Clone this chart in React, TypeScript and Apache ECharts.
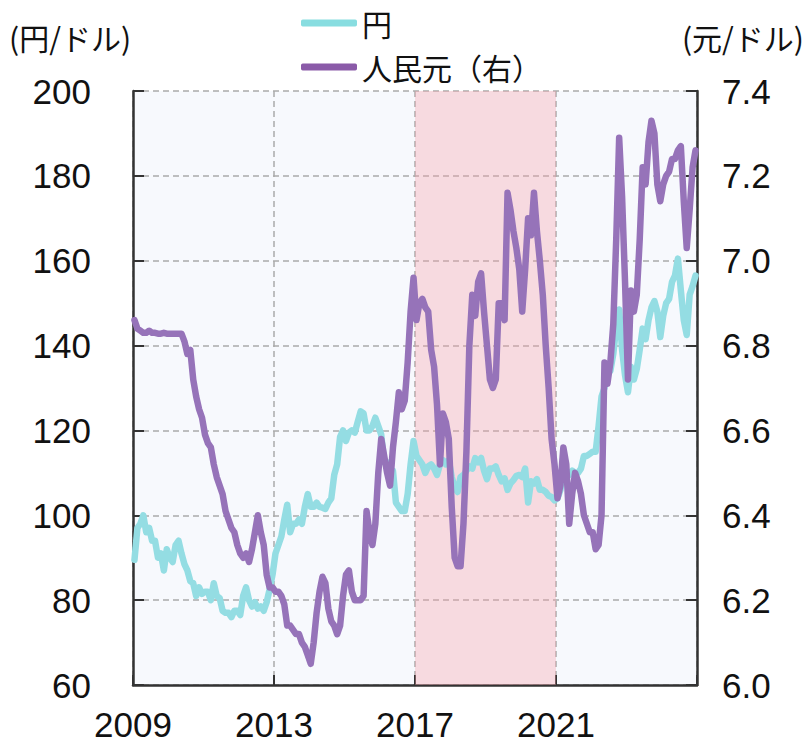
import React, { useEffect, useRef } from "react";
import * as echarts from "echarts";

const startYear = 2009;
const xTickLabels = ["2009", "2013", "2017", "2021"];
const shadeRange = [2017, 2021];
const seriesNames = ["円", "人民元（右）"];
const axisNames = ["(円/ドル)", "(元/ドル)"];

// USD/JPY, monthly, Jan 2009 - Dec 2024
const yenValues = [
  89.5, 97, 98, 100, 96, 97, 94, 94, 90, 91, 87, 92,
  90, 89, 93, 94, 91, 88.5, 87, 84.5, 84, 81, 83, 81.5,
  82, 82, 80, 84, 81, 80.5, 77.5, 77, 77, 76, 77.5, 77.5,
  76.5, 81, 83, 80, 78.5, 79.5, 78, 78.5, 77.5, 79.5, 82.5, 86,
  91, 93, 95, 99, 102.5, 96, 98, 98, 99, 98, 102, 105,
  102, 102, 103, 102, 101.8, 101.5, 103, 104, 109.5, 112, 118.5, 120,
  117.5, 119.5, 120, 119.5, 122, 124.5, 124, 120, 120, 121, 123, 121,
  119, 112.5, 112.5, 108, 110.5, 103, 102, 101, 101, 105, 112, 117.5,
  114, 113, 112, 110, 111.5, 112, 111, 109.5, 112, 113, 112, 113,
  109, 106.5, 105.5, 109, 109.5, 110.5, 111.5, 111, 113.5, 112.5, 113.5, 110.5,
  108.5, 111, 111, 111.5, 109.5, 108, 108.7, 106, 107.5, 108.3, 109.3, 109.5,
  109, 111, 103, 108, 107.5, 108.5, 106, 106, 105.5, 104.6, 104.3, 103.5,
  104, 106, 110, 109, 109.5, 110.5, 110, 110, 111, 114, 114, 114.5,
  115, 115, 121, 128, 130, 135.5, 134, 138, 144.5, 148.5, 139, 133,
  129, 135, 132, 134.5, 139, 144, 141.5, 146, 149, 150.5, 148, 142,
  147, 150, 151, 155, 156.5, 160.5, 153, 146, 142.5, 152, 154, 156.5,
];

// USD/CNY, monthly, Jan 2009 - Dec 2024
const yuanValues = [
  6.86, 6.84, 6.835, 6.83, 6.83, 6.835, 6.83, 6.83, 6.828, 6.828, 6.83, 6.828,
  6.828, 6.828, 6.828, 6.828, 6.828, 6.81, 6.78, 6.79, 6.72, 6.68, 6.65, 6.63,
  6.59, 6.57, 6.56, 6.52, 6.49, 6.47, 6.45, 6.41, 6.39, 6.37, 6.36, 6.33,
  6.31, 6.30, 6.31, 6.29, 6.32, 6.36, 6.40, 6.36, 6.33, 6.26, 6.23, 6.23,
  6.22, 6.22, 6.21, 6.19, 6.14, 6.14, 6.13, 6.12, 6.12, 6.10, 6.09, 6.07,
  6.05, 6.10, 6.17, 6.22, 6.255, 6.24, 6.18, 6.15, 6.14, 6.12, 6.14, 6.21,
  6.26, 6.27, 6.22, 6.20, 6.20, 6.20, 6.21, 6.41, 6.36, 6.33, 6.38, 6.50,
  6.58, 6.54, 6.50, 6.47, 6.56, 6.62, 6.69, 6.65, 6.67, 6.76, 6.88, 6.96,
  6.86, 6.90, 6.91, 6.89, 6.88, 6.79, 6.75, 6.66, 6.52, 6.64, 6.62, 6.58,
  6.42, 6.30, 6.28, 6.28, 6.38, 6.55, 6.80, 6.92, 6.87, 6.95, 6.97, 6.88,
  6.80, 6.72, 6.70, 6.72, 6.90, 6.90, 6.86, 7.16, 7.12, 7.07, 7.03, 6.98,
  6.88, 6.98, 7.10, 7.06, 7.16, 7.07, 7.00, 6.92, 6.80, 6.70, 6.58, 6.52,
  6.44, 6.47, 6.56, 6.52, 6.38, 6.45, 6.50, 6.48, 6.45, 6.40, 6.38, 6.36,
  6.36, 6.32, 6.33, 6.40, 6.76, 6.71, 6.76, 6.85, 7.05, 7.29, 7.15, 6.95,
  6.72, 6.93, 6.88, 6.92, 7.05, 7.22, 7.18, 7.28, 7.33, 7.30, 7.18, 7.14,
  7.18, 7.20, 7.21, 7.24, 7.24, 7.26, 7.27, 7.14, 7.03, 7.12, 7.22, 7.26,
];

const toPairs = (vals: number[]) =>
  vals.map((v, i) => [startYear + i / 12 + 1 / 24, v]);

const CYAN = "#94dde3";
const CYAN_IN = "#9cc4c9";
const PURPLE = "#9673b9";
const PURPLE_IN = "#9a5699";
const NUM_FONT = "'Liberation Sans', Arial, sans-serif";
const CJK_FONT = "'Noto Sans CJK JP', sans-serif";

export default function App() {
  const ref = useRef<HTMLDivElement>(null);
  useEffect(() => {
    if (!ref.current) return;
    const chart = echarts.init(ref.current, null, { renderer: "svg" });
    const pieces = (out: string, inn: string) => [
      { lt: shadeRange[0], color: out },
      { gte: shadeRange[0], lte: shadeRange[1], color: inn },
      { gt: shadeRange[1], color: out },
    ];
    chart.setOption({
      animation: false,
      backgroundColor: "#ffffff",
      grid: {
        left: 133,
        right: 111,
        top: 91,
        bottom: 63,
        show: true,
        backgroundColor: "#f7f9fd",
        borderWidth: 0,
      },
      legend: {
        orient: "vertical",
        left: 296,
        top: 3,
        itemWidth: 56,
        itemHeight: 7,
        itemGap: 14,
        icon: "roundRect",
        textStyle: {
          fontSize: 30,
          lineHeight: 30,
          fontFamily: CJK_FONT,
          color: "#111",
        },
        data: [
          { name: seriesNames[0], itemStyle: { color: "#88dde0" } },
          { name: seriesNames[1], itemStyle: { color: "#8a5aa8" } },
        ],
      },
      visualMap: [
        { show: false, type: "piecewise", seriesIndex: 0, dimension: 0, pieces: pieces(CYAN, CYAN_IN) },
        { show: false, type: "piecewise", seriesIndex: 1, dimension: 0, pieces: pieces(PURPLE, PURPLE_IN) },
      ],
      graphic: [
        {
          type: "text",
          left: 9,
          top: 22,
          style: { text: axisNames[0], fontSize: 30, fontFamily: CJK_FONT, fill: "#111" },
        },
        {
          type: "text",
          right: 4,
          top: 22,
          style: { text: axisNames[1], fontSize: 30, fontFamily: CJK_FONT, fill: "#111" },
        },
      ],
      xAxis: {
        type: "value",
        min: 2009,
        max: 2025,
        interval: 4,
        axisLine: { show: true, lineStyle: { color: "#333", width: 2.5 } },
        axisTick: { show: true, inside: true, length: 10, lineStyle: { color: "#333", width: 2 } },
        axisLabel: {
          margin: 22,
          fontSize: 35,
          fontFamily: NUM_FONT,
          color: "#111",
          formatter: (v: number) => (xTickLabels.includes(String(v)) ? String(v) : ""),
        },
        splitLine: { show: true, lineStyle: { color: "#aaaaaa", type: [6, 4], width: 1.5 } },
      },
      yAxis: [
        {
          type: "value",
          min: 60,
          max: 200,
          interval: 20,
          axisLine: { show: true, lineStyle: { color: "#333", width: 2.5 } },
          axisTick: { show: true, inside: true, length: 11, lineStyle: { color: "#333", width: 2 } },
          axisLabel: { margin: 42, fontSize: 35, fontFamily: NUM_FONT, color: "#111" },
          splitLine: { show: true, lineStyle: { color: "#aaaaaa", type: [6, 4], width: 1.5 } },
        },
        {
          type: "value",
          min: 6.0,
          max: 7.4,
          interval: 0.2,
          position: "right",
          axisLine: { show: true, lineStyle: { color: "#333", width: 2.5 } },
          axisTick: { show: true, inside: true, length: 11, lineStyle: { color: "#333", width: 2 } },
          axisLabel: {
            margin: 25,
            fontSize: 35,
            fontFamily: NUM_FONT,
            color: "#111",
            formatter: (v: number) => v.toFixed(1),
          },
          splitLine: { show: false },
        },
      ],
      series: [
        {
          name: seriesNames[0],
          type: "line",
          yAxisIndex: 0,
          showSymbol: false,
          symbol: "none",
          z: 3,
          lineStyle: { width: 6.5, color: CYAN, cap: "round", join: "round" },
          itemStyle: { color: CYAN },
          data: toPairs(yenValues),
        },
        {
          name: seriesNames[1],
          type: "line",
          yAxisIndex: 1,
          showSymbol: false,
          symbol: "none",
          z: 4,
          lineStyle: { width: 6.5, color: PURPLE, cap: "round", join: "round" },
          itemStyle: { color: PURPLE },
          data: toPairs(yuanValues),
        },
        {
          name: "shade",
          type: "line",
          yAxisIndex: 0,
          data: [],
          z: 1,
          markArea: {
            silent: true,
            itemStyle: { color: "rgba(246,160,168,0.35)" },
            data: [[{ xAxis: shadeRange[0] }, { xAxis: shadeRange[1] }]],
          },
        },
      ],
    });
    return () => chart.dispose();
  }, []);
  return (
    <div
      ref={ref}
      style={{ position: "fixed", left: 0, top: 0, width: 808, height: 748 }}
    />
  );
}
